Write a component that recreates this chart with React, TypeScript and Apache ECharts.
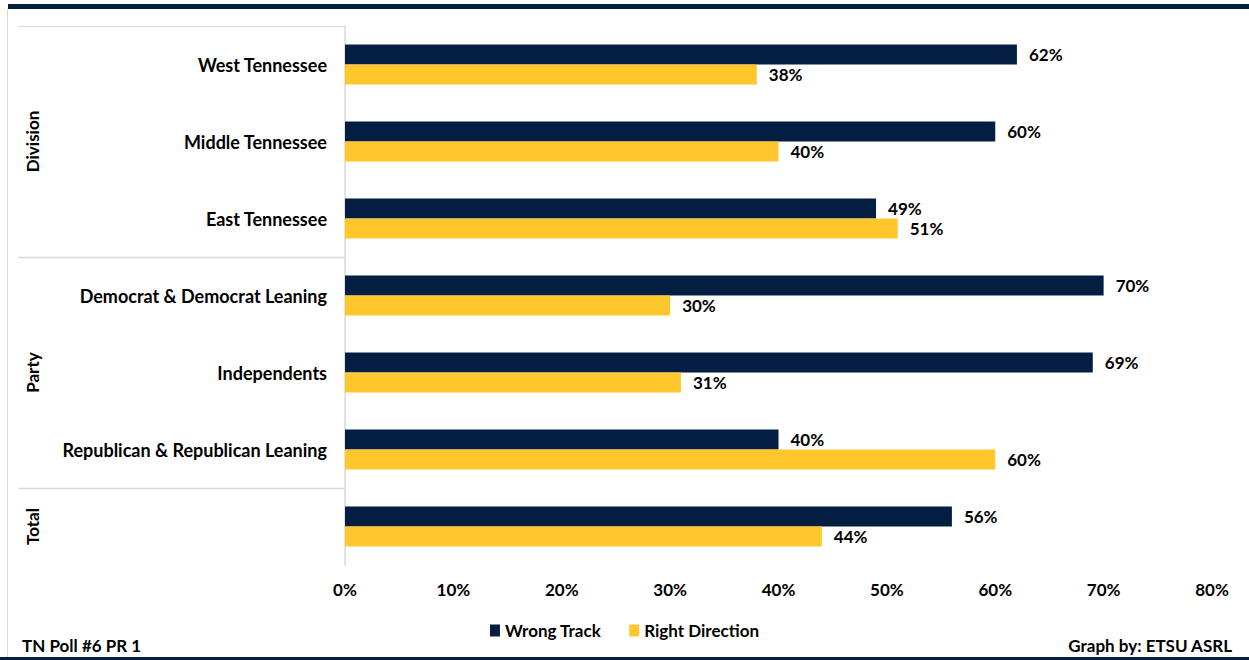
import React, { useEffect, useRef } from "react";
import * as echarts from "echarts";

const categories = [
  "West Tennessee",
  "Middle Tennessee",
  "East Tennessee",
  "Democrat & Democrat Leaning",
  "Independents",
  "Republican & Republican Leaning",
  "Total",
];
const wrongTrack = [62, 60, 49, 70, 69, 40, 56];
const rightDirection = [38, 40, 51, 30, 31, 60, 44];
const groupLabels = [
  { name: "Division", rows: [0, 2] },
  { name: "Party", rows: [3, 5] },
  { name: "Total", rows: [6, 6] },
];
const seriesNames = ["Wrong Track", "Right Direction"];

const NAVY = "#041e42";
const GOLD = "#ffc72c";
const FONT = "Lato, 'Open Sans', sans-serif";

export default function App() {
  const ref = useRef<HTMLDivElement>(null);
  useEffect(() => {
    if (!ref.current) return;
    const chart = echarts.init(ref.current, undefined, { renderer: "svg" });
    const W = 1249, H = 660;
    const gridTop = 26, gridBottom = 95, gridLeft = 345, gridRight = 37;
    const plotH = H - gridTop - gridBottom;
    const band = plotH / categories.length;
    const graphics: any[] = [
      { type: "rect", shape: { x: 8, y: 4, width: W - 8, height: 5 }, style: { fill: NAVY } },
      { type: "rect", shape: { x: 0, y: H - 3, width: W, height: 3 }, style: { fill: NAVY } },
      { type: "line", shape: { x1: 7.5, y1: 9, x2: 7.5, y2: H - 3 }, style: { stroke: "#d9d9d9", lineWidth: 1 } },
      { type: "line", shape: { x1: 18, y1: gridTop + 0.5, x2: gridLeft, y2: gridTop + 0.5 }, style: { stroke: "#d9d9d9", lineWidth: 1 } },
    ];
    groupLabels.forEach((g, i) => {
      if (i > 0) {
        const y = Math.round(gridTop + g.rows[0] * band) + 0.5;
        graphics.push({ type: "line", shape: { x1: 18, y1: y, x2: gridLeft, y2: y }, style: { stroke: "#d9d9d9", lineWidth: 1.5 } });
      }
      const cy = gridTop + ((g.rows[0] + g.rows[1] + 1) / 2) * band;
      graphics.push({
        type: "text",
        x: 32,
        y: cy,
        rotation: Math.PI / 2,
        style: {
          text: g.name,
          font: `bold 17px ${FONT}`,
          fill: "#000",
          align: "center",
          verticalAlign: "middle",
        },
      });
    });
    graphics.push(
      { type: "text", x: 22, y: 645, style: { text: "TN Poll #6 PR 1", font: `bold 17px ${FONT}`, fill: "#000", align: "left", verticalAlign: "middle" } },
      { type: "text", x: 1232, y: 645, style: { text: "Graph by: ETSU ASRL", font: `bold 17px ${FONT}`, fill: "#000", align: "right", verticalAlign: "middle" } }
    );

    const labelCfg = {
      show: true,
      position: "right",
      distance: 12,
      formatter: "{c}%",
      color: "#000",
      fontWeight: "bold",
      fontSize: 17,
      fontFamily: FONT,
    };

    chart.setOption({
      animation: false,
      textStyle: { fontFamily: FONT },
      grid: { left: gridLeft, right: gridRight, top: gridTop, bottom: gridBottom },
      legend: {
        bottom: 16,
        left: "center",
        itemWidth: 10,
        itemHeight: 12,
        itemGap: 28,
        icon: "rect",
        textStyle: { fontWeight: "bold", fontSize: 17, color: "#000", fontFamily: FONT },
        data: seriesNames,
      },
      xAxis: {
        type: "value",
        min: 0,
        max: 80,
        interval: 10,
        splitLine: { show: false },
        axisLine: { show: false },
        axisTick: { show: false },
        axisLabel: { formatter: "{value}%", color: "#000", fontWeight: "bold", fontSize: 17, margin: 16, fontFamily: FONT },
      },
      yAxis: {
        type: "category",
        data: categories,
        inverse: true,
        axisLine: { show: true, lineStyle: { color: "#d9d9d9", width: 1.5 } },
        axisTick: { show: false },
        axisLabel: {
          color: "#000",
          fontWeight: "bold",
          fontSize: 18,
          margin: 18,
          padding: [0, 0, 5, 0],
          fontFamily: FONT,
          formatter: (v: string) => (v === "Total" ? "" : v),
        },
      },
      series: [
        {
          name: seriesNames[0],
          type: "bar",
          data: wrongTrack,
          barWidth: 20,
          barGap: "0%",
          itemStyle: { color: NAVY },
          label: labelCfg,
        },
        {
          name: seriesNames[1],
          type: "bar",
          data: rightDirection,
          barWidth: 20,
          barGap: "0%",
          itemStyle: { color: GOLD },
          label: labelCfg,
        },
      ],
      graphic: graphics,
    });
    return () => chart.dispose();
  }, []);
  return <div ref={ref} style={{ width: 1249, height: 660, position: "absolute", left: 0, top: 0 }} />;
}
